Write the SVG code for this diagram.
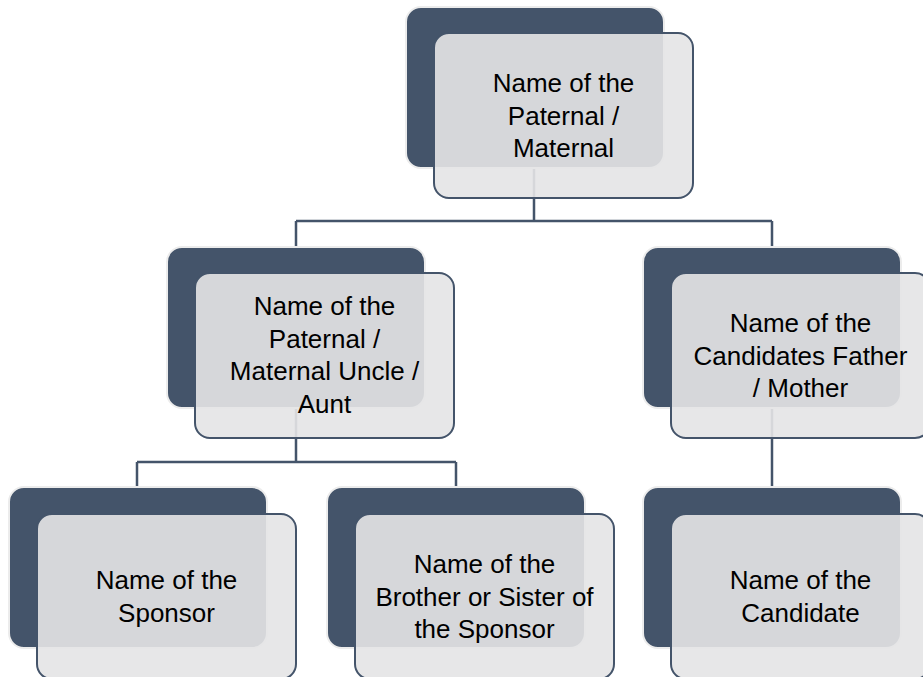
<svg xmlns="http://www.w3.org/2000/svg" width="923" height="677" viewBox="0 0 923 677">
<style>
.back{fill:#44546a;stroke:#ececec;stroke-width:2}
.front{fill:#e5e5e6;fill-opacity:0.91;stroke:#44546a;stroke-width:2}
.lbl{font-family:"Liberation Sans",Arial,sans-serif;font-size:26px;fill:#000;text-anchor:middle}
.conn{fill:none;stroke:#44546a;stroke-width:2.5}
</style>
<rect width="923" height="677" fill="#fff"/>
<g id="connectors">
<path class="conn" d="M534 168V221M296 221H772M296 221V247M772 221V247"/>
<path class="conn" d="M296 408V462M137 462H456M137 462V487M456 462V487"/>
<path class="conn" d="M772 408V487"/>
</g>
<g id="node-top">
<rect class="back" x="406" y="7" width="258" height="161" rx="15"/>
<rect class="front" x="434" y="33" width="259" height="165" rx="15"/>
<text class="lbl" x="563.5" y="92">Name of the</text>
<text class="lbl" x="563.5" y="124.5">Paternal /</text>
<text class="lbl" x="563.5" y="157">Maternal</text>
</g>
<g id="node-uncle">
<rect class="back" x="167" y="247" width="258" height="161" rx="15"/>
<rect class="front" x="195" y="273" width="259" height="165" rx="15"/>
<text class="lbl" x="324.5" y="315">Name of the</text>
<text class="lbl" x="324.5" y="347.5">Paternal /</text>
<text class="lbl" x="324.5" y="380">Maternal Uncle /</text>
<text class="lbl" x="324.5" y="412.5">Aunt</text>
</g>
<g id="node-parent">
<rect class="back" x="643" y="247" width="258" height="161" rx="15"/>
<rect class="front" x="671" y="273" width="259" height="165" rx="15"/>
<text class="lbl" x="800.5" y="332">Name of the</text>
<text class="lbl" x="800.5" y="364.5">Candidates Father</text>
<text class="lbl" x="800.5" y="397">/ Mother</text>
</g>
<g id="node-sponsor">
<rect class="back" x="9" y="487" width="258" height="161" rx="15"/>
<rect class="front" x="37" y="514" width="259" height="165" rx="15"/>
<text class="lbl" x="166.5" y="589">Name of the</text>
<text class="lbl" x="166.5" y="621.5">Sponsor</text>
</g>
<g id="node-sibling">
<rect class="back" x="327" y="487" width="258" height="161" rx="15"/>
<rect class="front" x="355" y="514" width="259" height="165" rx="15"/>
<text class="lbl" x="484.5" y="573">Name of the</text>
<text class="lbl" x="484.5" y="605.5">Brother or Sister of</text>
<text class="lbl" x="484.5" y="638">the Sponsor</text>
</g>
<g id="node-candidate">
<rect class="back" x="643" y="487" width="258" height="161" rx="15"/>
<rect class="front" x="671" y="514" width="259" height="165" rx="15"/>
<text class="lbl" x="800.5" y="589">Name of the</text>
<text class="lbl" x="800.5" y="621.5">Candidate</text>
</g>
</svg>
